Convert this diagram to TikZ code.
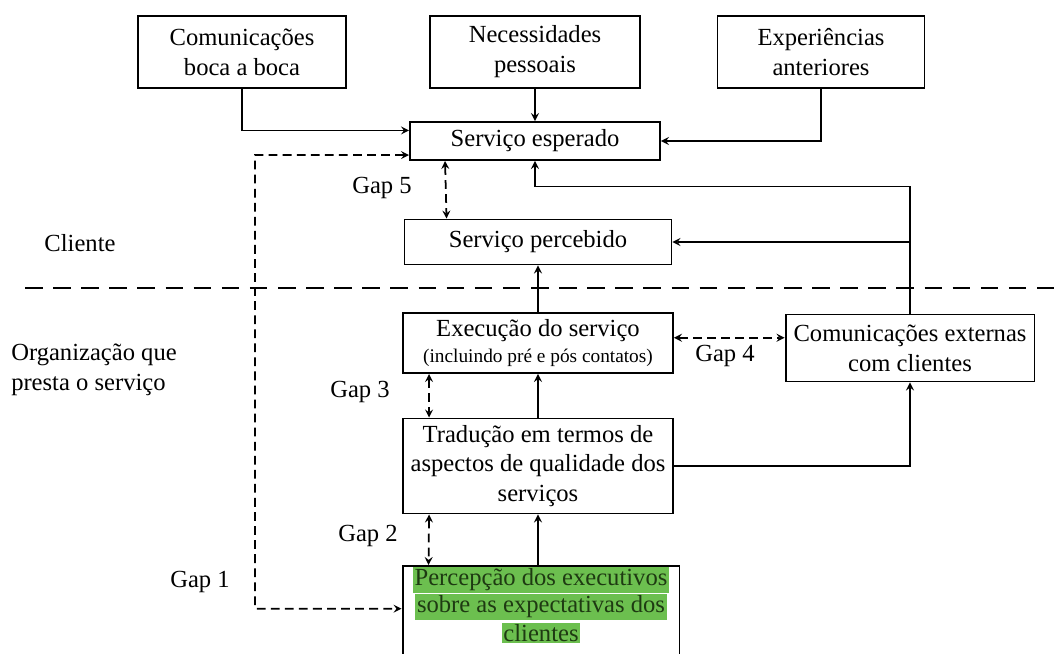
\documentclass[tikz,border=0pt]{standalone}
\usepackage{fontspec}
\setmainfont{Liberation Serif}
\usepackage{tikz}
\definecolor{hlgreen}{HTML}{6CBF4F}
\definecolor{txtgreen}{HTML}{1E3A12}

\begin{document}
\begin{tikzpicture}[x=0.02cm,y=-0.02cm,
  box/.style={draw,line width=1.1pt,align=center,inner sep=2pt,
    font=\rmfamily\fontsize{14}{17}\selectfont},
  lbl/.style={align=left,inner sep=0pt,font=\rmfamily\fontsize{14}{17}\selectfont},
  hl/.style={fill=hlgreen,text=txtgreen,inner sep=1pt,
    font=\rmfamily\fontsize{14}{17}\selectfont},
  flow/.style={->,>=stealth,line width=1pt},
  gaparrow/.style={<->,>=stealth,line width=1pt,dash pattern=on 5pt off 3pt},
  divider/.style={line width=1.6pt,dash pattern=on 10pt off 6pt}]
  \useasboundingbox (0,0) rectangle (1054,653);
  \clip (0,0) rectangle (1054,653);
  % fontes da expectativa
  \node[box,minimum width=4.16cm,minimum height=1.44cm] (boca) at (242,52) {Comunicações\\boca a boca};
  \node[box,minimum width=4.2cm,minimum height=1.44cm] (necess) at (535,52) {Necessidades\\pessoais};
  \node[box,minimum width=4.14cm,minimum height=1.44cm] (exper) at (821,52) {Experiências\\anteriores};
  \node[box,minimum width=5cm,minimum height=0.76cm] (esper) at (535,141) {Serviço esperado};
  \node[box,minimum width=5.34cm,minimum height=0.9cm] (perceb) at (538,242) {Serviço percebido};
  % lado da organizacao
  \node[box,minimum width=5.4cm,minimum height=1.2cm] (exec) at (538,343)
    {Execução do serviço\\[-2pt]{\fontsize{11}{13}\selectfont(incluindo pré e pós contatos)}};
  \node[box,minimum width=4.98cm,minimum height=1.34cm] (comext) at (910,348) {Comunicações externas\\com clientes};
  \node[box,minimum width=5.4cm,minimum height=1.9cm] (trad) at (538,466) {Tradução em termos de\\aspectos de qualidade dos\\serviços};
  \node[box,anchor=north,minimum width=5.54cm,minimum height=2.2cm] (percexec) at (541,565) {};
  \node[hl] (pe1) at (541,580) {Percepção dos executivos};
  \node[hl] (pe2) at (541,607) {sobre as expectativas dos};
  \node[hl] (pe3) at (541,633) {clientes};
  % rotulos
  \node[lbl] (cli) at (80,243) {Cliente};
  \node[lbl] (org) at (94,370) {Organização que\\presta o serviço};
  \node[lbl] (g5) at (382,188) {Gap 5};
  \node[lbl] (g4) at (725,356) {Gap 4};
  \node[lbl] (g3) at (360,392) {Gap 3};
  \node[lbl] (g2) at (368,536) {Gap 2};
  \node[lbl] (g1) at (200,582) {Gap 1};
  \coordinate (g1corner) at (255,155);
  \coordinate (divl) at (25,288);
  \coordinate (divr) at (1054,288);
  \draw[divider] (divl) -- (divr);
  % setas
  \draw[flow] (boca.south) |- ([yshift=6pt]esper.west);
  \draw[flow] (necess.south) -- (esper.north);
  \draw[flow] (exper.south) |- (esper.east);
  \draw[flow] (comext.north) -- ++(0,-127) -| (esper.south);
  \draw[flow] (comext.north |- perceb.east) -- (perceb.east);
  \draw[flow] (exec.north) -- (perceb.south);
  \draw[flow] (trad.north) -- (exec.south);
  \draw[flow] (trad.south |- percexec.north) -- (trad.south);
  \draw[flow] (trad.east) -| (comext.south);
  % gaps
  \draw[gaparrow] ([xshift=0.72cm]esper.south west) -- ([xshift=0.86cm]perceb.north west);
  \draw[gaparrow] ([yshift=3pt]exec.east) -- ([yshift=3pt]exec.east -| comext.west);
  \draw[gaparrow] ([xshift=0.54cm]exec.south west) -- ([xshift=0.54cm]trad.north west);
  \draw[gaparrow] ([xshift=0.54cm]trad.south west) -- ([xshift=0.54cm]percexec.north west);
  \draw[gaparrow] ([yshift=-8pt]esper.west) -- (g1corner) |- ([yshift=7pt]percexec.west);
\end{tikzpicture}
\end{document}
